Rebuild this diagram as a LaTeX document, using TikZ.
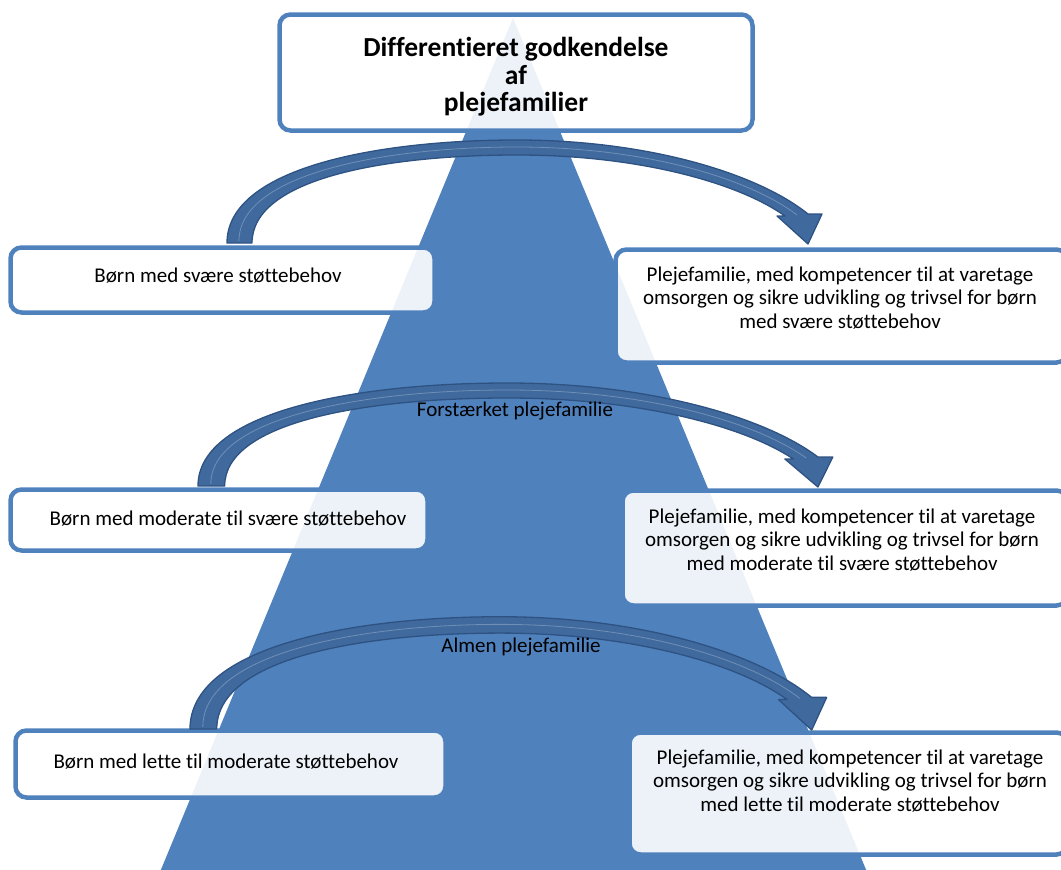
\documentclass[tikz,border=0pt]{standalone}
\usepackage{fontspec}
\setmainfont{Carlito}[RawFeature={-liga;-clig;-calt;-dlig}]
\definecolor{triblue}{RGB}{79,129,189}
\definecolor{arrfill}{RGB}{64,106,158}
\definecolor{arrdraw}{RGB}{46,82,130}
\tikzset{
  tri/.style={fill=triblue},
  box/.style={draw=triblue, line width=4.5pt, rounded corners=11pt, fill=white, fill opacity=0.9, text opacity=1, inner sep=0pt},
  txt/.style={font=\fontsize{21}{23.5}\selectfont, align=center, inner sep=0pt},
  ttl/.style={font=\fontsize{27.5}{27.5}\selectfont\bfseries, align=center, inner sep=0pt},
  pics/carrow/.style={code={
    \filldraw[fill=arrfill, draw=arrdraw, line width=1.3pt, line join=round]
      (0,0) .. controls (0,-75) and (150,-103) .. (290,-103)
      .. controls (420,-103) and (530,-70) .. (581,-29)
      -- (595,-29) -- (581,1) -- (550,-27) -- (558,-27)
      .. controls (510,-61) and (410,-88) .. (290,-88)
      .. controls (160,-88) and (25,-65) .. (25,0) -- cycle;
    \draw[white, opacity=0.25, line width=0.8pt]
      (12,-2) .. controls (12,-70) and (160,-96) .. (290,-96)
      .. controls (415,-96) and (520,-66) .. (570,-28);
  }}
}
\begin{document}
\begin{tikzpicture}[x=1pt, y=-1pt]
\useasboundingbox (0,0) rectangle (1061,870);
\clip (0,0) rectangle (1061,870);
% pyramid
\fill[tri] (160,872) -- (513,18) -- (867,872) -- cycle;
% title
\node[box, minimum width=473pt, minimum height=116pt] (title) at (516,72.5) {};
\node[ttl] (titletxt) at (516,77) {Differentieret godkendelse\\af\\plejefamilier};
% left boxes
\node[box, minimum width=424pt, minimum height=65pt] (b1) at (222.5,280) {};
\node[txt] (b1t) at (218,276) {Børn med svære støttebehov};
\node[box, minimum width=417pt, minimum height=61pt] (b3) at (219,520) {};
\node[txt] (b3t) at (228,519) {Børn med moderate til svære støttebehov};
\node[box, minimum width=430pt, minimum height=67pt] (b5) at (230.5,764) {};
\node[txt] (b5t) at (226,762) {Børn med lette til moderate støttebehov};
% right boxes
\node[box, minimum width=452pt, minimum height=113pt] (b2) at (841.5,306) {};
\node[txt] (b2t) at (840,298) {Plejefamilie, med kompetencer til at varetage\\omsorgen og sikre udvikling og trivsel for børn\\med svære støttebehov};
\node[box, minimum width=445pt, minimum height=115pt] (b4) at (845,548) {};
\node[txt] (b4t) at (842,540) {Plejefamilie, med kompetencer til at varetage\\omsorgen og sikre udvikling og trivsel for børn\\med moderate til svære støttebehov};
\node[box, minimum width=438pt, minimum height=122pt] (b6) at (848.5,793.5) {};
\node[txt] (b6t) at (850,781) {Plejefamilie, med kompetencer til at varetage\\omsorgen og sikre udvikling og trivsel for børn\\med lette til moderate støttebehov};
% curved arrows
\pic at (227,243) {carrow};
\pic[xscale=1.067] at (198,486) {carrow};
\pic[xscale=1.07, yscale=1.09] at (190,729) {carrow};
% labels
\node[txt] (l1) at (515,411) {Forstærket plejefamilie};
\node[txt] (l2) at (521,647) {Almen plejefamilie};
\end{tikzpicture}
\end{document}
